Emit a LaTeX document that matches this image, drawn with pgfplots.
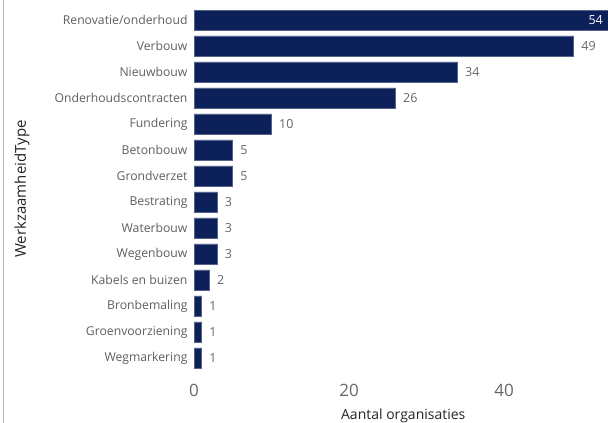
\documentclass[border=0pt]{standalone}
\usepackage{pgfplots}
\pgfplotsset{compat=1.18}
\usepackage{fontspec}
\setmainfont{Open Sans}
\definecolor{barblue}{RGB}{12,32,90}
\definecolor{lblgray}{RGB}{96,94,92}
\definecolor{tickgray}{RGB}{102,102,102}
\definecolor{titlegray}{RGB}{37,36,35}
\begin{document}
\begin{tikzpicture}[x=1pt,y=1pt]
\path[use as bounding box] (0,0) rectangle (608,423);
\draw[gray!60, line width=1pt] (3,0) -- (3,423);
\node[rotate=90, font=\fontsize{15}{16}\selectfont, text=titlegray] at (22,234) {WerkzaamheidType};
\begin{axis}[
  at={(194pt,52pt)}, anchor=south west, scale only axis,
  width=418.5pt, height=364pt,
  xbar, bar width=0.77, bar shift=0pt,
  xmin=0, xmax=54, ymin=-0.5, ymax=13.5,
  ytick={0,...,13},
  yticklabels={Wegmarkering,Groenvoorziening,Bronbemaling,Kabels en buizen,Wegenbouw,Waterbouw,Bestrating,Grondverzet,Betonbouw,Fundering,Onderhoudscontracten,Nieuwbouw,Verbouw,Renovatie/onderhoud},
  xtick={0,20,40},
  axis line style={draw=none}, major tick length=0pt,
  /pgf/number format/assume math mode=true,
  yticklabel style={font=\fontsize{12.2}{13}\selectfont, text=lblgray, xshift=-3pt},
  xticklabel style={font=\fontsize{17}{18}\selectfont, text=tickgray, yshift=-10pt},
  xlabel={Aantal organisaties},
  xlabel style={font=\fontsize{14}{15}\selectfont, text=titlegray, at={(axis description cs:0.5,0)}, anchor=north, yshift=-34pt},
  nodes near coords,
  every node near coord/.append style={font=\fontsize{12.5}{13}\selectfont, text=tickgray, anchor=west, xshift=4pt},
]
\addplot[fill=barblue, draw=barblue!70!white, line width=0.6pt] coordinates {
  (49,12) (34,11) (26,10) (10,9) (5,8) (5,7) (3,6) (3,5) (3,4) (2,3) (1,2) (1,1) (1,0)};
\addplot[fill=barblue, draw=barblue!70!white, line width=0.6pt,
  every node near coord/.append style={text=white, anchor=east, xshift=-10pt}] coordinates {(54,13)};
\end{axis}
\end{tikzpicture}
\end{document}
